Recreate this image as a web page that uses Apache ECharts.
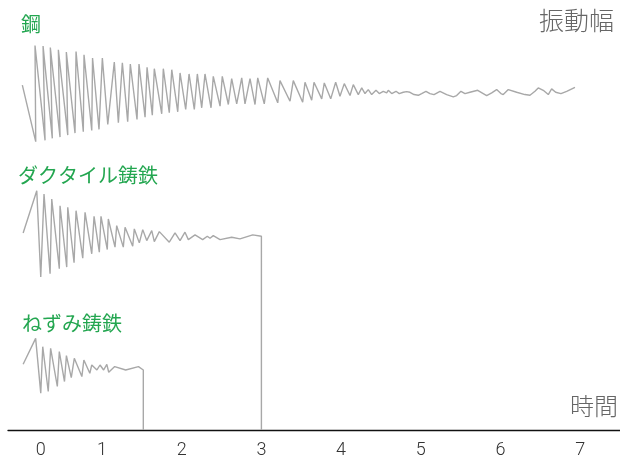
<!DOCTYPE html>
<html>
<head>
<meta charset="utf-8">
<script src="https://cdn.jsdelivr.net/npm/echarts@6/dist/echarts.min.js"></script>
<style>
html,body{margin:0;padding:0;background:#fff;}
#chart{width:620px;height:459px;}
</style>
</head>
<body>
<div id="chart"></div>
<script>
// Time (s) and amplitude (arbitrary units, baseline of the time axis = 0)
const steelTime = [0.00,0.168,0.159,0.285,0.260,0.376,0.351,0.473,0.452,0.570,0.552,0.661,0.674,0.765,0.774,0.871,0.881,0.962,1.004,1.072,1.154,1.205,1.255,1.322,1.355,1.439,1.464,1.540,1.565,1.631,1.656,1.749,1.769,1.844,1.875,1.950,1.979,2.050,2.092,2.158,2.196,2.251,2.292,2.368,2.396,2.481,2.509,2.585,2.627,2.690,2.753,2.794,2.857,2.920,2.954,3.036,3.079,3.205,3.233,3.359,3.400,3.518,3.547,3.631,3.660,3.757,3.789,3.870,3.932,3.986,4.040,4.112,4.153,4.216,4.259,4.300,4.341,4.384,4.438,4.479,4.529,4.572,4.592,4.635,4.689,4.730,4.780,4.823,4.864,4.915,4.969,5.011,5.065,5.115,5.166,5.241,5.325,5.408,5.450,5.504,5.555,5.617,5.714,5.827,5.890,5.952,6.006,6.035,6.098,6.203,6.307,6.370,6.433,6.474,6.537,6.600,6.642,6.693,6.759,6.831,6.935];
const steelAmp = [346.5,289.7,386.3,291,385.7,293,384.3,294.3,382,296.3,379.7,298.3,380.3,299.7,377,301,373.7,302,373.7,307,369.7,308.7,369,309.7,367.7,312,367.7,314.3,364.3,316.3,363,317.7,363,318.7,362,319.7,358.7,322,357.7,322,357.7,323.7,357.7,323.7,355.3,325.3,355.3,327,353,327.7,353.7,327.7,353,327,353.7,327.7,353.7,328.7,351,330.3,351,329.3,349.3,331.3,349.3,332.7,348.7,332.7,349.3,335.3,348,336,347,337,343.7,338,342,337,341.3,338,340.3,338.7,341.3,338,340.3,338,339.3,340,339.3,337,336.3,338,340.3,338,337,340.3,337,334.7,336,340.3,338,339.3,341.3,336,338.7,342,338,337,342,339.3,337,336.3,340.3,343.7,341.3,337,342.7,339.3,338,340.3,344.3];

const ductileTime = [0.01,0.181,0.231,0.272,0.348,0.369,0.464,0.473,0.557,0.570,0.649,0.674,0.758,0.787,0.871,0.900,0.966,0.987,1.066,1.079,1.163,1.184,1.267,1.289,1.385,1.405,1.468,1.511,1.561,1.624,1.656,1.719,1.844,1.916,1.979,2.041,2.083,2.167,2.263,2.321,2.355,2.396,2.481,2.627,2.731,2.891,3.0,3.0];
const ductileAmp = [198,240.3,153.7,237,157,232,162,225.3,163.7,223.7,168,220.3,172.7,218.7,177,214.7,178.7,214.7,181.3,212,183.7,205.3,183.7,203.7,184.7,202,188,201.3,190.3,200.3,189.3,199.3,188.7,198,190.3,198.7,191.3,196,191.3,194.7,192.7,195.3,191.3,193.7,192,196,194.7,0];

const grayTime = [0.01,0.167,0.231,0.256,0.325,0.355,0.439,0.464,0.529,0.553,0.614,0.652,0.747,0.772,0.847,0.871,0.936,0.975,1.020,1.060,1.084,1.159,1.297,1.457,1.518,1.518];
const grayAmp = [66,92,37,83.7,38.7,82,43.7,78.7,48.7,74.7,52.7,72,53.7,70.3,57,65.3,60.3,65.3,60.3,66,58,63.7,60.3,63.7,60.3,0];

const seriesNames = ['鋼','ダクタイル鋳鉄','ねずみ鋳鉄'];
const tickValues = [0.231,1,2,3,4,5,6,7];
const tickLabels = ['0','1','2','3','4','5','6','7'];
const yAxisName = '振動幅';
const xAxisName = '時間';

function pairs(t, a){ return t.map((v,i)=>[v,a[i]]); }

const lineColor = '#a8a8a8';
const green = '#23a650';
const labelFont = '"Noto Sans CJK JP", "Noto Sans", sans-serif';

const chart = echarts.init(document.getElementById('chart'), null, {renderer:'canvas'});
const mkSeries = (name, t, a) => ({
  name, type:'line', data: pairs(t,a), showSymbol:false, symbol:'none',
  lineStyle:{color:lineColor, width:1.4}, silent:true, animation:false
});
chart.setOption({
  animation:false,
  backgroundColor:'#fff',
  grid:{left:8, right:0, top:0, bottom:29, containLabel:false},
  xAxis:{
    type:'value', min:-0.18, max:7.5,
    axisLine:{show:true, lineStyle:{color:'#111', width:1.3}},
    axisTick:{show:false},
    splitLine:{show:false},
    axisLabel:{
      customValues: tickValues,
      formatter: v => { const i = tickValues.findIndex(x=>Math.abs(x-v)<1e-6); return i>=0 ? tickLabels[i] : ''; },
      color:'#333', fontSize:18, fontFamily:'Roboto, "DejaVu Sans", sans-serif', fontWeight:300, margin:11
    }
  },
  yAxis:{type:'value', min:0, max:432, show:false},
  series:[
    mkSeries(seriesNames[0], steelTime, steelAmp),
    mkSeries(seriesNames[1], ductileTime, ductileAmp),
    mkSeries(seriesNames[2], grayTime, grayAmp)
  ],
  graphic:[
    {type:'text', left:21, top:14, style:{text:seriesNames[0], fill:green, font:'20px '+labelFont}},
    {type:'text', left:18, top:165, style:{text:seriesNames[1], fill:green, font:'20px '+labelFont}},
    {type:'text', left:22, top:313, style:{text:seriesNames[2], fill:green, font:'20px '+labelFont}},
    {type:'text', right:6, top:8, style:{text:yAxisName, fill:'#666', font:'300 25px '+labelFont}},
    {type:'text', right:2, top:394, style:{text:xAxisName, fill:'#666', font:'300 24px '+labelFont}}
  ]
});
</script>
</body>
</html>
